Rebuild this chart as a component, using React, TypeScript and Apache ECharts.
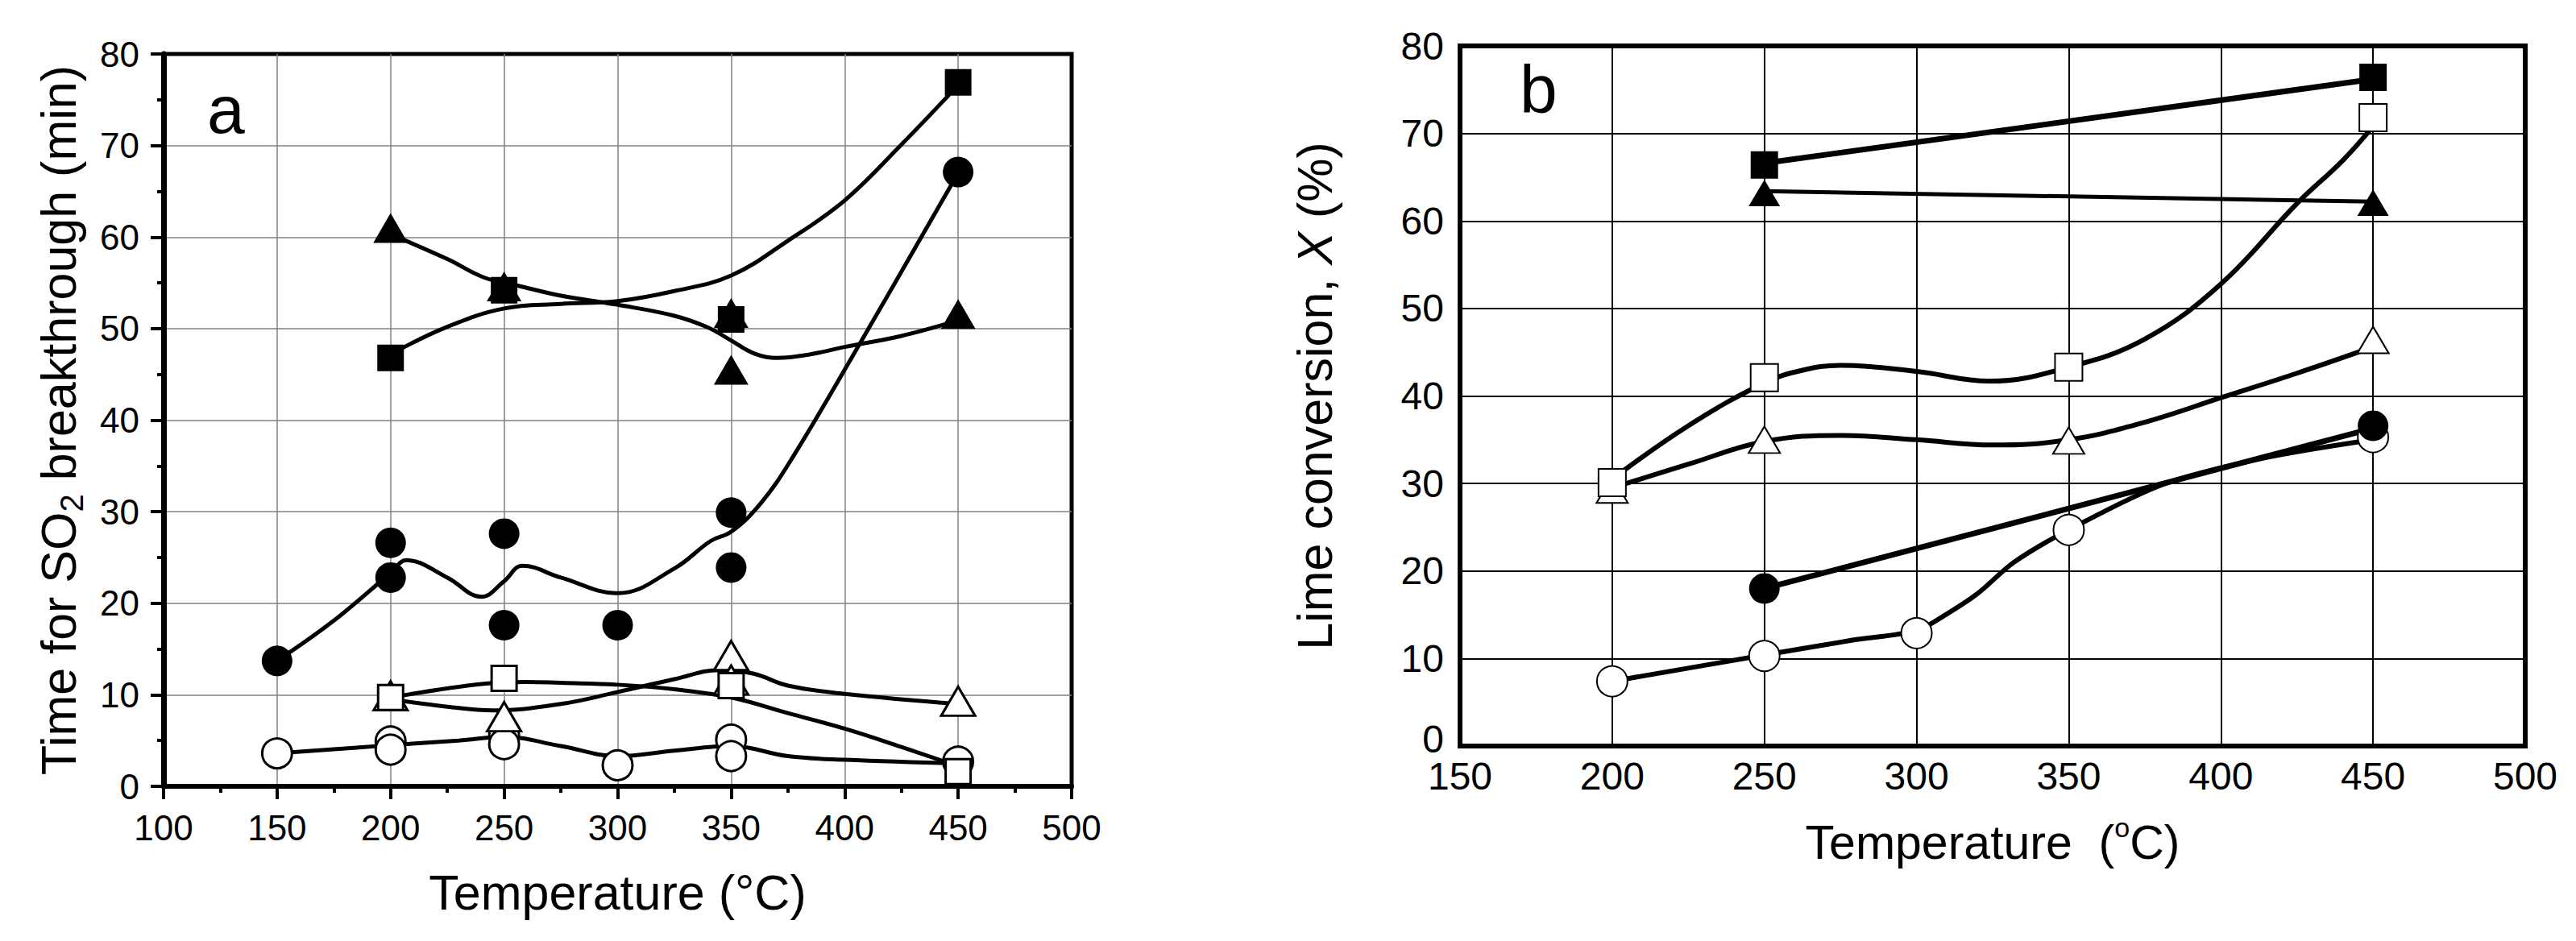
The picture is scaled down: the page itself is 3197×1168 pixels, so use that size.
import React, { useEffect, useRef } from "react";
import * as echarts from "echarts";

const FONT = "'Liberation Sans', Arial, Helvetica, sans-serif";

// ---------- Panel a : Time for SO2 breakthrough (min) ----------
const aXTicks = [100, 150, 200, 250, 300, 350, 400, 450, 500];
const aYTicks = [0, 10, 20, 30, 40, 50, 60, 70, 80];

const aFilledSquares = [[200, 46.8], [250, 54.2], [350, 51.0], [450, 76.9]];
const aFilledTriangles = [[200, 61.0], [250, 54.6], [350, 51.7], [350, 45.5], [450, 51.6]];
const aFilledCircles = [[150, 13.7], [200, 26.6], [200, 22.8], [250, 27.6], [250, 17.6], [300, 17.6], [350, 29.9], [350, 23.9], [450, 67.1]];
const aOpenSquares = [[200, 9.7], [250, 11.8], [350, 11.0], [450, 1.6]];
const aOpenTriangles = [[200, 9.9], [250, 7.6], [350, 14.3], [350, 11.6], [450, 9.3]];
const aOpenCircles = [[150, 3.6], [200, 4.9], [200, 4.0], [250, 5.6], [250, 4.6], [300, 2.3], [350, 5.1], [350, 3.3], [450, 2.7]];

const aFilledSquareCurve = [[200, 47.2], [225, 50.2], [250, 52.2], [275, 52.7], [300, 53.0], [325, 54.1], [350, 55.8], [375, 59.6], [400, 64.0], [425, 70.1], [450, 76.6]];
const aFilledTriangleCurve = [[200, 60.3], [225, 57.6], [241, 55.6], [256, 54.7], [275, 53.6], [300, 52.6], [325, 51.4], [340, 50.1], [350, 48.7], [360, 47.3], [370, 46.8], [385, 47.2], [400, 48.0], [425, 49.2], [450, 50.9]];
const aFilledCircleCurve = [[150, 13.7], [175, 18.1], [200, 23.3], [207, 24.7], [225, 22.8], [240, 20.7], [250, 22.4], [258, 24.1], [275, 22.8], [300, 21.1], [325, 23.8], [341, 26.8], [350, 27.8], [363, 30.9], [377, 35.9], [407, 48.5], [450, 67.0]];
const aOpenSquareCurve = [[200, 9.7], [241, 11.2], [260, 11.4], [275, 11.3], [300, 11.1], [325, 10.6], [350, 9.7], [375, 8.0], [400, 6.3], [425, 4.3], [450, 2.2]];
const aOpenTriangleCurve = [[200, 9.5], [225, 8.7], [245, 8.3], [275, 9.0], [300, 10.3], [325, 11.7], [345, 12.7], [360, 12.3], [375, 11.0], [400, 10.1], [450, 9.0]];
const aOpenCircleCurve = [[150, 3.6], [200, 4.5], [230, 5.0], [250, 5.4], [275, 4.4], [300, 3.3], [325, 3.9], [350, 4.4], [375, 3.3], [400, 2.9], [450, 2.5]];

// ---------- Panel b : Lime conversion X (%) ----------
const bXTicks = [150, 200, 250, 300, 350, 400, 450, 500];
const bYTicks = [0, 10, 20, 30, 40, 50, 60, 70, 80];

const bFilledSquares = [[250, 66.4], [450, 76.4]];
const bFilledTriangles = [[250, 63.2], [450, 62.1]];
const bFilledCircles = [[250, 18.0], [450, 36.6]];
const bOpenSquares = [[200, 30.1], [250, 42.1], [350, 43.3], [450, 71.8]];
const bOpenTriangles = [[200, 29.3], [250, 35.0], [350, 34.9], [450, 46.4]];
const bOpenCircles = [[200, 7.4], [250, 10.3], [300, 12.9], [350, 24.7], [450, 35.3]];

const bFilledSquareLine = [[250, 66.6], [450, 76.2]];
const bFilledTriangleLine = [[250, 63.4], [450, 62.2]];
const bFilledCircleLine = [[250, 18.0], [450, 36.3]];
const bOpenSquareCurve = [[200, 30.5], [225, 36.6], [250, 41.5], [262, 42.9], [275, 43.5], [300, 42.8], [324, 41.7], [350, 43.3], [375, 46.5], [400, 52.8], [425, 62.0], [440, 66.9], [450, 70.8]];
const bOpenTriangleCurve = [[200, 29.5], [225, 32.2], [250, 34.8], [275, 35.5], [300, 35.0], [325, 34.4], [350, 35.0], [375, 37.0], [400, 39.8], [425, 42.6], [450, 45.6]];
const bOpenCircleCurve = [[200, 7.4], [250, 10.4], [279, 12.1], [300, 13.2], [310, 15.1], [320, 17.4], [332, 21.0], [350, 24.7], [381, 29.9], [414, 32.9], [450, 35.0]];

function step(t: number[]) {
  return t[1] - t[0];
}

function lineSeries(data: number[][], idx: number, width: number, smooth: number | boolean) {
  return {
    type: "line",
    xAxisIndex: idx,
    yAxisIndex: idx,
    data,
    smooth,
    symbol: "none",
    showSymbol: false,
    silent: true,
    lineStyle: { color: "#000", width },
    z: 2,
  };
}

function markerSeries(data: number[][], idx: number, symbol: string, size: any, filled: boolean, bw: number, z: number) {
  return {
    type: "scatter",
    xAxisIndex: idx,
    yAxisIndex: idx,
    data,
    symbol,
    symbolSize: size,
    silent: true,
    itemStyle: {
      color: filled ? "#000" : "#fff",
      borderColor: "#000",
      borderWidth: filled ? 0 : bw,
      opacity: 1,
    },
    z,
  };
}

export default function App() {
  const ref = useRef<HTMLDivElement>(null);

  useEffect(() => {
    document.body.style.margin = "0";
    document.body.style.overflow = "hidden";
    const chart = echarts.init(ref.current!, null, { renderer: "svg" });

    const option: any = {
      animation: false,
      backgroundColor: "#fff",
      grid: [
        { left: 203, top: 67, width: 1127, height: 909, show: true, borderColor: "#000", borderWidth: 5, backgroundColor: "transparent" },
        { left: 1812, top: 57, width: 1322, height: 869, show: true, borderColor: "#000", borderWidth: 6, backgroundColor: "transparent" },
      ],
      xAxis: [
        {
          type: "value",
          gridIndex: 0,
          position: "bottom",
          min: aXTicks[0],
          max: aXTicks[aXTicks.length - 1],
          interval: step(aXTicks),
          axisLine: { show: true, onZero: false, lineStyle: { color: "#000", width: 6 } },
          axisTick: { show: true, inside: false, length: 16, lineStyle: { color: "#000", width: 4 } },
          minorTick: { show: true, splitNumber: 2, length: 8, lineStyle: { color: "#000", width: 4 } },
          axisLabel: { fontSize: 44, color: "#000", fontFamily: FONT, margin: 29 },
          splitLine: { show: true, showMinLine: false, showMaxLine: false, lineStyle: { color: "#808080", width: 1.5 } },
          name: "Temperature (°C)",
          nameLocation: "middle",
          nameGap: 101,
          nameTextStyle: { fontSize: 61, color: "#000", fontFamily: FONT },
        },
        {
          type: "value",
          gridIndex: 1,
          position: "bottom",
          min: bXTicks[0],
          max: bXTicks[bXTicks.length - 1],
          interval: step(bXTicks),
          axisLine: { show: true, onZero: false, lineStyle: { color: "#000", width: 6 } },
          axisTick: { show: false },
          axisLabel: { fontSize: 48, color: "#000", fontFamily: FONT, margin: 13 },
          splitLine: { show: true, showMinLine: false, showMaxLine: false, lineStyle: { color: "#000", width: 2 } },
          name: "{t|Temperature  (}{p|o}{t|C)}",
          nameLocation: "middle",
          nameGap: 84,
          nameTextStyle: {
            fontSize: 59,
            color: "#000",
            fontFamily: FONT,
            rich: {
              t: { fontSize: 59, fontFamily: FONT, color: "#000", lineHeight: 59, padding: [12, 0, 0, 0] },
              p: { fontSize: 34, fontFamily: FONT, color: "#000", lineHeight: 34, verticalAlign: "top" },
            },
          },
        },
      ],
      yAxis: [
        {
          type: "value",
          gridIndex: 0,
          min: aYTicks[0],
          max: aYTicks[aYTicks.length - 1],
          interval: step(aYTicks),
          axisLine: { show: true, onZero: false, lineStyle: { color: "#000", width: 7 } },
          axisTick: { show: true, inside: false, length: 16, lineStyle: { color: "#000", width: 4 } },
          minorTick: { show: true, splitNumber: 2, length: 8, lineStyle: { color: "#000", width: 4 } },
          axisLabel: { fontSize: 44, color: "#000", fontFamily: FONT, margin: 30 },
          splitLine: { show: true, showMinLine: false, showMaxLine: false, lineStyle: { color: "#808080", width: 1.5 } },
          name: "{t|Time for SO}{s|2}{t| breakthrough (min)}",
          nameLocation: "middle",
          nameGap: 94,
          nameTextStyle: {
            fontSize: 61,
            color: "#000",
            fontFamily: FONT,
            rich: {
              t: { fontSize: 61, fontFamily: FONT, color: "#000", lineHeight: 61, padding: [0, 0, 12, 0] },
              s: { fontSize: 40, fontFamily: FONT, color: "#000", lineHeight: 40, verticalAlign: "bottom" },
            },
          },
        },
        {
          type: "value",
          gridIndex: 1,
          min: bYTicks[0],
          max: bYTicks[bYTicks.length - 1],
          interval: step(bYTicks),
          axisLine: { show: true, onZero: false, lineStyle: { color: "#000", width: 6 } },
          axisTick: { show: false },
          axisLabel: {
            fontSize: 48,
            color: "#000",
            fontFamily: FONT,
            margin: 20,
            formatter: (v: number) => (v === bYTicks[0] ? "{z|" + v + "}" : String(v)),
            rich: { z: { fontSize: 48, fontFamily: FONT, color: "#000", lineHeight: 44, padding: [0, 0, 18, 0] } },
          },
          splitLine: { show: true, showMinLine: false, showMaxLine: false, lineStyle: { color: "#000", width: 2 } },
          name: "{t|Lime conversion, }{i|X}{t| (%)}",
          nameLocation: "middle",
          nameGap: 150,
          nameTextStyle: {
            fontSize: 61,
            color: "#000",
            fontFamily: FONT,
            rich: {
              t: { fontSize: 61, fontFamily: FONT, color: "#000", lineHeight: 61 },
              i: { fontSize: 61, fontFamily: FONT, color: "#000", lineHeight: 61, fontStyle: "italic" },
            },
          },
        },
      ],
      graphic: [
        { type: "text", x: 257, y: 94, silent: true, style: { text: "a", font: `84px ${FONT}`, fill: "#000", textAlign: "left", textVerticalAlign: "top" } },
        { type: "text", x: 1886, y: 69, silent: true, style: { text: "b", font: `84px ${FONT}`, fill: "#000", textAlign: "left", textVerticalAlign: "top" } },
      ],
      series: [
        // panel a curves
        lineSeries(aFilledSquareCurve, 0, 5, 0.4),
        lineSeries(aFilledTriangleCurve, 0, 5, 0.4),
        lineSeries(aFilledCircleCurve, 0, 5, 0.4),
        lineSeries(aOpenSquareCurve, 0, 5, 0.4),
        lineSeries(aOpenTriangleCurve, 0, 5, 0.4),
        lineSeries(aOpenCircleCurve, 0, 5, 0.4),
        // panel a markers
        markerSeries(aOpenCircles, 0, "circle", 37, false, 3, 3),
        markerSeries(aFilledCircles, 0, "circle", 38, true, 3, 4),
        markerSeries(aOpenTriangles, 0, "triangle", [42, 36], false, 3, 5),
        markerSeries(aFilledTriangles, 0, "triangle", [43, 37], true, 3, 6),
        markerSeries(aOpenSquares, 0, "rect", 31, false, 3, 7),
        markerSeries(aFilledSquares, 0, "rect", 33, true, 3, 8),
        // panel b lines
        lineSeries(bFilledSquareLine, 1, 7, false),
        lineSeries(bFilledTriangleLine, 1, 5, false),
        lineSeries(bFilledCircleLine, 1, 7, false),
        lineSeries(bOpenSquareCurve, 1, 6, 0.4),
        lineSeries(bOpenTriangleCurve, 1, 6, 0.4),
        lineSeries(bOpenCircleCurve, 1, 6, 0.3),
        // panel b markers
        markerSeries(bOpenCircles, 1, "circle", 38, false, 2, 3),
        markerSeries(bFilledCircles, 1, "circle", 38, true, 2, 4),
        markerSeries(bOpenTriangles, 1, "triangle", [39, 33], false, 2, 5),
        markerSeries(bFilledTriangles, 1, "triangle", [39, 33], true, 2, 6),
        markerSeries(bOpenSquares, 1, "rect", 34, false, 2, 7),
        markerSeries(bFilledSquares, 1, "rect", 34, true, 2, 8),
      ],
    };

    chart.setOption(option);
    return () => chart.dispose();
  }, []);

  return <div ref={ref} style={{ width: 3197, height: 1168 }} />;
}
